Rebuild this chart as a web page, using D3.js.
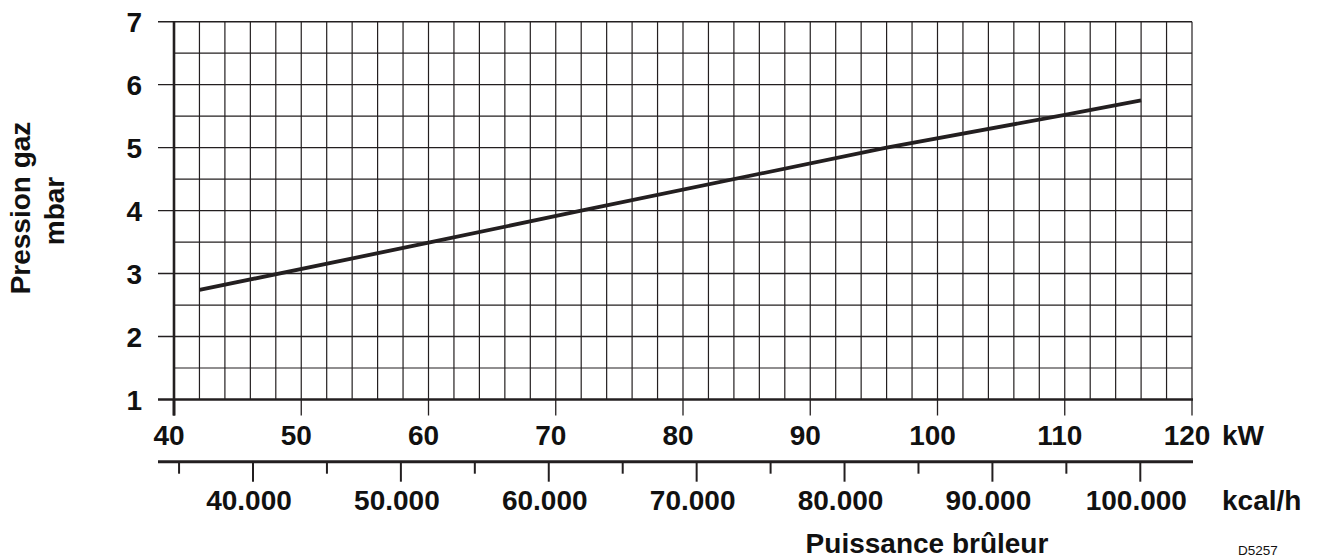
<!DOCTYPE html>
<html><head><meta charset="utf-8">
<script src="https://cdn.jsdelivr.net/npm/d3@7"></script>
<style>
html,body{margin:0;padding:0;background:#fff;}
svg{display:block;}
text{font-family:"Liberation Sans",Arial,Helvetica,sans-serif;font-weight:bold;fill:#111;}
</style></head>
<body>
<script>
// ---- data ----
const powerKW = [42, 60, 72, 96, 110, 116];
const pressureMbar = [2.74, 3.49, 4.0, 5.0, 5.52, 5.75];
const kwTicks = [40, 50, 60, 70, 80, 90, 100, 110, 120];
const mbarTicks = [1, 2, 3, 4, 5, 6, 7];
const kcalMajor = [40000, 50000, 60000, 70000, 80000, 90000, 100000];
const kcalMinor = [35000, 45000, 55000, 65000, 75000, 85000, 95000];
const kcalLabels = ["40.000", "50.000", "60.000", "70.000", "80.000", "90.000", "100.000"];

const W = 1321, H = 559;
const svg = d3.select("body").append("svg").attr("width", W).attr("height", H);

const x = d3.scaleLinear().domain([40, 120]).range([174, 1192]);
const y = d3.scaleLinear().domain([1, 7]).range([399.5, 21.7]);
const xk = d3.scaleLinear().domain([40000, 100000]).range([253, 1140.3]);

const ink = "#231f20";
const g = svg.append("g");

// vertical grid lines every 2 kW
const vGrid = d3.range(42, 121, 2);
g.selectAll("line.vg").data(vGrid).join("line")
  .attr("x1", d => x(d)).attr("x2", d => x(d))
  .attr("y1", y(7)).attr("y2", y(1))
  .attr("stroke", ink).attr("stroke-width", 1.2);

// horizontal half grid lines
const hHalf = d3.range(1.5, 7, 1);
g.selectAll("line.hh").data(hHalf).join("line")
  .attr("x1", x(40)).attr("x2", x(120))
  .attr("y1", d => y(d)).attr("y2", d => y(d))
  .attr("stroke", ink).attr("stroke-width", 1.2);

// integer horizontal lines extending left as ticks
g.selectAll("line.hi").data(mbarTicks.filter(d => d > 1)).join("line")
  .attr("x1", 158).attr("x2", x(120))
  .attr("y1", d => y(d)).attr("y2", d => y(d))
  .attr("stroke", ink).attr("stroke-width", 1.4);

// y axis line
g.append("line").attr("x1", x(40)).attr("x2", x(40)).attr("y1", y(7)).attr("y2", y(1) + 16)
  .attr("stroke", ink).attr("stroke-width", 2.6);
// x axis baseline
g.append("line").attr("x1", 158).attr("x2", x(120) + 1).attr("y1", y(1)).attr("y2", y(1))
  .attr("stroke", ink).attr("stroke-width", 2.6);
// kW ticks below
g.selectAll("line.kt").data(kwTicks).join("line")
  .attr("x1", d => x(d)).attr("x2", d => x(d))
  .attr("y1", y(1)).attr("y2", y(1) + 16)
  .attr("stroke", ink).attr("stroke-width", d => d === 40 ? 2.6 : 1.3);

// y tick labels
g.selectAll("text.yl").data(mbarTicks).join("text")
  .attr("x", 142).attr("y", d => y(d) + 10)
  .attr("text-anchor", "end").attr("font-size", 28)
  .text(d => d);

// kW tick labels
g.selectAll("text.xl").data(kwTicks).join("text")
  .attr("x", d => x(d) - 5).attr("y", 445)
  .attr("text-anchor", "middle").attr("font-size", 28)
  .text(d => d);
g.append("text").attr("x", 1222).attr("y", 445).attr("font-size", 28).text("kW");

// kcal/h axis
const ky = 461.7;
g.append("line").attr("x1", 158).attr("x2", 1193).attr("y1", ky).attr("y2", ky)
  .attr("stroke", ink).attr("stroke-width", 3);
g.selectAll("line.km").data(kcalMajor).join("line")
  .attr("x1", d => xk(d)).attr("x2", d => xk(d))
  .attr("y1", ky).attr("y2", ky + 20)
  .attr("stroke", ink).attr("stroke-width", 2);
g.selectAll("line.kn").data(kcalMinor).join("line")
  .attr("x1", d => xk(d)).attr("x2", d => xk(d))
  .attr("y1", ky).attr("y2", ky + 12)
  .attr("stroke", ink).attr("stroke-width", 2);
g.selectAll("text.kl").data(kcalMajor).join("text")
  .attr("x", d => xk(d) - 4).attr("y", 510)
  .attr("text-anchor", "middle").attr("font-size", 28)
  .text((d, i) => kcalLabels[i]);
g.append("text").attr("x", 1222).attr("y", 510).attr("font-size", 28).text("kcal/h");

// axis titles
g.append("text").attr("x", 927).attr("y", 553).attr("text-anchor", "middle")
  .attr("font-size", 28).text("Puissance brûleur");
g.append("text").attr("transform", "translate(30,208) rotate(-90)")
  .attr("text-anchor", "middle").attr("font-size", 28).text("Pression gaz");
g.append("text").attr("transform", "translate(64,211) rotate(-90)")
  .attr("text-anchor", "middle").attr("font-size", 28).text("mbar");
g.append("text").attr("x", 1238).attr("y", 555).attr("font-size", 13.5)
  .style("font-weight", "normal").text("D5257");

// data line
const pts = powerKW.map((d, i) => [d, pressureMbar[i]]);
g.append("path").datum(pts)
  .attr("d", d3.line().x(d => x(d[0])).y(d => y(d[1])))
  .attr("fill", "none").attr("stroke", ink).attr("stroke-width", 3.8);
</script>
</body></html>
